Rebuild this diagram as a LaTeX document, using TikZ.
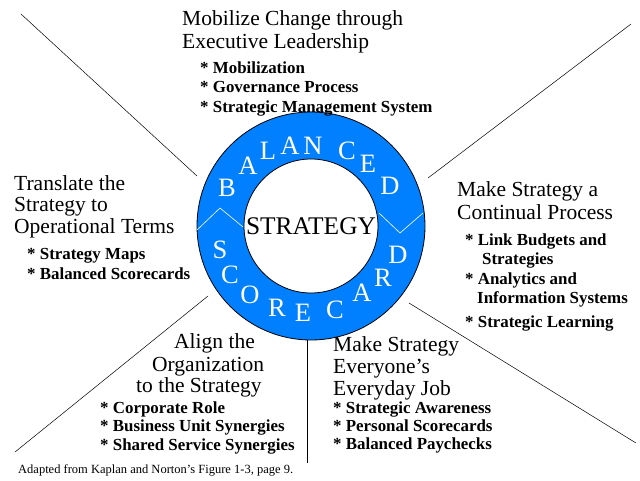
\documentclass[tikz,border=0pt]{standalone}
\usepackage{fontspec}
\setmainfont{Liberation Serif}
\usetikzlibrary{positioning,calc}
\definecolor{ringblue}{RGB}{0,128,255}

\begin{document}
\begin{tikzpicture}[x=1pt, y=-1pt,
    divider/.style={draw=black, line width=0.5pt},
    ringletter/.style={text=white, inner sep=0pt, font=\fontsize{26.5}{26}\selectfont},
    headtext/.style={anchor=base west, align=left, inner sep=0pt, font=\fontsize{21.5}{23}\selectfont},
    itemtext/.style={anchor=base west, align=left, inner sep=0pt, font=\bfseries\fontsize{16.9}{19.5}\selectfont},
    notetext/.style={anchor=base west, inner sep=0pt, font=\fontsize{12.5}{13}\selectfont}
]
\useasboundingbox (0,0) rectangle (640,480);

% ===== DIVIDERS =====
\coordinate (tl1) at (21,14);   \coordinate (tl2) at (197,176);
\coordinate (tr1) at (631,24);  \coordinate (tr2) at (428,178);
\coordinate (br1) at (409,303); \coordinate (br2) at (636,443);
\coordinate (bl1) at (208,296); \coordinate (bl2) at (15,452);
\coordinate (vt1) at (307,339); \coordinate (vt2) at (307,463);
\draw[divider] (tl1) -- (tl2);
\draw[divider] (tr1) -- (tr2);
\draw[divider] (br1) -- (br2);
\draw[divider] (bl1) -- (bl2);
\draw[divider] (vt1) -- (vt2);

% ===== RING =====
\coordinate (ctr) at (311,226);
\fill[ringblue, even odd rule] (ctr) circle (114) (ctr) circle (67);
\draw[line width=0.8pt] (ctr) circle (114);
\draw[line width=0.8pt] (ctr) circle (67);

% white seams between the two words
\draw[white, line width=0.6pt] (197,230) -- (220,208) -- (243,227);
\draw[white, line width=0.6pt] (379,213) -- (400,233) -- (423,213);

% ring letters
\foreach \ch/\x/\y [count=\i] in {B/227/188, A/248/166, L/268/151, A/290/146, N/313/146,
    C/347/151, E/368/164, D/390/186} {
    \node[ringletter] (top\i) at (\x,\y) {\ch};
}
\foreach \ch/\x/\y [count=\i] in {S/220/250, C/230/275, O/250/295, R/277/308, E/303/313,
    C/335/310, A/362/293, R/383/278, D/398/255} {
    \node[ringletter] (bot\i) at (\x,\y) {\ch};
}

\node[inner sep=0pt, font=\fontsize{25.4}{26}\selectfont] (strategy) at (311,226) {STRATEGY};

% ===== TOP =====
% (base anchor = baseline of the last line)
\node[headtext] (mobilize) at (182,48) {Mobilize Change through\\Executive Leadership};
\node[itemtext] (mobitems) at (200,112) {* Mobilization\\* Governance Process\\* Strategic Management System};

% ===== LEFT =====
\node[headtext, font=\fontsize{21.5}{21.5}\selectfont] (translate) at (14,233) {Translate the\\Strategy to\\Operational Terms};
\node[itemtext, font=\bfseries\fontsize{16.9}{20}\selectfont] (transitems) at (27,279) {* Strategy Maps\\* Balanced Scorecards};

% ===== RIGHT =====
\node[headtext] (continual) at (457,219) {Make Strategy a\\Continual Process};
\node[itemtext] (contitems) at (465,327) {* Link Budgets and\\\hspace*{17pt}Strategies\\* Analytics and\\\hspace*{12pt}Information Systems\\[4pt]* Strategic Learning};

% ===== BOTTOM LEFT =====
\node[headtext] (align1) at (174,348) {Align the};
\node[headtext] (align2) at (152,371) {Organization};
\node[headtext] (align3) at (136,392) {to the Strategy};
\node[itemtext, font=\bfseries\fontsize{16.9}{18.5}\selectfont] (alignitems) at (100,450) {* Corporate Role\\* Business Unit Synergies\\* Shared Service Synergies};

% ===== BOTTOM RIGHT =====
\node[headtext, font=\fontsize{21.5}{22}\selectfont] (everyday) at (333,395) {Make Strategy\\Everyone's\\Everyday Job};
\node[itemtext, font=\bfseries\fontsize{16.9}{18}\selectfont] (everyitems) at (333,449) {* Strategic Awareness\\* Personal Scorecards\\* Balanced Paychecks};

% source note
\node[notetext] (source) at (18,473) {Adapted from Kaplan and Norton's Figure 1-3, page 9.};

\end{tikzpicture}
\end{document}
